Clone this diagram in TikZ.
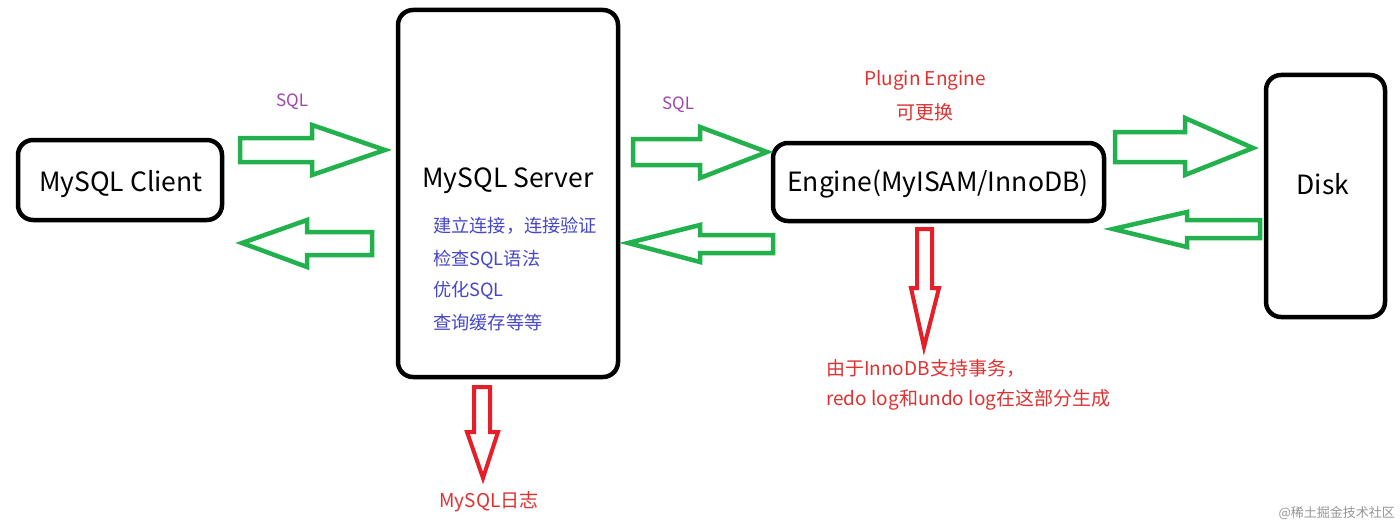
\documentclass[tikz,border=0pt]{standalone}
\usepackage{fontspec}
\setmainfont{Noto Sans CJK SC}
\definecolor{boxgreen}{RGB}{34,177,76}
\definecolor{arrred}{RGB}{230,30,40}
\definecolor{txtred}{RGB}{222,50,50}
\definecolor{txtblue}{RGB}{70,70,200}
\definecolor{txtpurple}{RGB}{160,70,170}
\definecolor{wmgray}{RGB}{150,150,150}
\tikzset{
  bbox/.style={draw=black, line width=4.5pt, rounded corners=15pt, fill=white, inner sep=0pt},
  btitle/.style={font=\fontsize{26.5}{30}\selectfont, text=black, inner sep=0pt},
  garrow/.style={draw=boxgreen, line width=4.5pt, line join=miter, fill=white},
  rarrow/.style={draw=arrred, line width=4pt, line join=miter, fill=white},
  redtxt/.style={font=\fontsize{19}{23}\selectfont, text=txtred, inner sep=0pt},
  bluetxt/.style={font=\fontsize{18.2}{22}\selectfont, text=txtblue, inner sep=0pt, anchor=west},
  sqltxt/.style={font=\fontsize{17}{20}\selectfont, text=txtpurple, inner sep=0pt}
}
\begin{document}
\begin{tikzpicture}[x=1pt,y=-1pt]
\useasboundingbox[fill=white] (0,0) rectangle (1400,527);
% boxes
\node[bbox, minimum width=204pt, minimum height=80pt] (client) at (120,180) {};
\node[bbox, minimum width=220pt, minimum height=367pt] (server) at (508,193.5) {};
\node[bbox, minimum width=331pt, minimum height=78pt] (engine) at (938.5,182) {};
\node[bbox, minimum width=119pt, minimum height=242pt] (disk) at (1325.5,196) {};
% titles
\node[btitle] (clientT) at (121,184) {MySQL Client};
\node[btitle] (serverT) at (508,181) {MySQL Server};
\node[btitle] (engineT) at (938,184) {Engine(MyISAM/InnoDB)};
\node[btitle] (diskT) at (1323,184) {Disk};
% server notes
\node[bluetxt] (s1) at (433,226) {建立连接，连接验证};
\node[bluetxt] (s2) at (433,259) {检查SQL语法};
\node[bluetxt] (s3) at (433,291) {优化SQL};
\node[bluetxt] (s4) at (433,323) {查询缓存等等};
% green arrows
\draw[garrow] (240,138) -- (312,138) -- (312,125) -- (385,150) -- (312,175) -- (312,162) -- (240,162) -- cycle;
\draw[garrow] (372,232) -- (307,232) -- (307,220) -- (242,243) -- (307,267) -- (307,255) -- (372,255) -- cycle;
\draw[garrow] (633,139) -- (700,139) -- (700,127) -- (767,152) -- (700,178) -- (700,165) -- (633,165) -- cycle;
\draw[garrow] (773,235) -- (700,235) -- (700,225) -- (628,243) -- (700,262) -- (700,253) -- (773,253) -- cycle;
\draw[garrow] (1115,132) -- (1185,132) -- (1185,118) -- (1253,148) -- (1185,175) -- (1185,162) -- (1115,162) -- cycle;
\draw[garrow] (1260,220) -- (1187,220) -- (1187,212) -- (1113,229) -- (1187,247) -- (1187,238) -- (1260,238) -- cycle;
% red arrows
\draw[rarrow] (474,387) -- (490,387) -- (490,432) -- (498,432) -- (483,478) -- (467,432) -- (474,432) -- cycle;
\draw[rarrow] (917,229) -- (932,229) -- (932,288) -- (939,288) -- (924,347) -- (911,288) -- (917,288) -- cycle;
% labels
\node[sqltxt] (sql1) at (292,102) {SQL};
\node[sqltxt] (sql2) at (678,105) {SQL};
\node[redtxt] (plug) at (925,80) {Plugin Engine};
\node[redtxt] (repl) at (925,112) {可更换};
\node[redtxt, anchor=west] (inno1) at (826,369) {由于InnoDB支持事务，};
\node[redtxt, anchor=west] (inno2) at (826,400) {redo log和undo log在这部分生成};
\node[redtxt] (mlog) at (489,502) {MySQL日志};
\node[font=\fontsize{13}{16}\selectfont, text=wmgray, inner sep=0pt, anchor=east] (wm) at (1395,513) {@稀土掘金技术社区};
\end{tikzpicture}
\end{document}
